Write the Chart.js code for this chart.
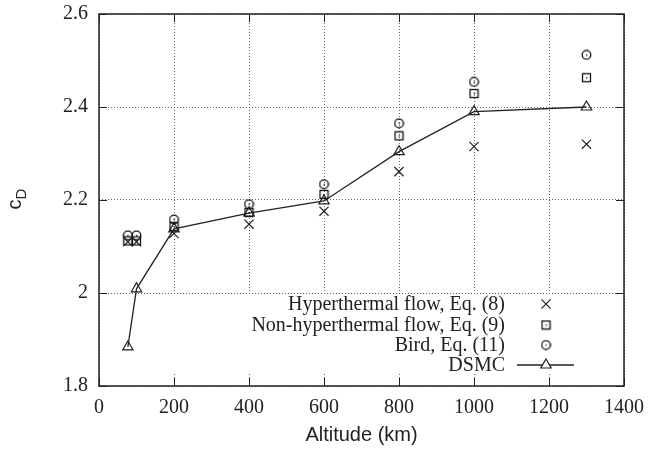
<!DOCTYPE html>
<html>
<head>
<meta charset="utf-8">
<script src="https://cdn.jsdelivr.net/npm/chart.js@4/dist/chart.umd.min.js"></script>
<style>
  html, body { margin: 0; padding: 0; background: #fff; }
  #wrap { width: 648px; height: 452px; }
</style>
</head>
<body>
<div id="wrap"><canvas id="cdChart" width="648" height="452"></canvas></div>
<script>
// data
var altitudes = [77, 100, 200, 400, 600, 800, 1000, 1300];
var hyperthermal = [2.110, 2.110, 2.128, 2.148, 2.176, 2.261, 2.315, 2.320];
var nonHyperthermal = [2.112, 2.112, 2.143, 2.173, 2.212, 2.338, 2.429, 2.463];
var bird = [2.124, 2.124, 2.158, 2.191, 2.234, 2.365, 2.454, 2.512];
var dsmc = [1.884, 2.009, 2.138, 2.172, 2.198, 2.304, 2.390, 2.400];
var seriesLabels = ['Hyperthermal flow, Eq. (8)', 'Non-hyperthermal flow, Eq. (9)', 'Bird, Eq. (11)', 'DSMC'];

function toPoints(ys) {
  return altitudes.map(function(a, i) { return { x: a, y: ys[i] }; });
}

// marker images: square and circle with a dot in the middle
function makeMarker(kind) {
  var c = document.createElement('canvas');
  c.width = 11; c.height = 11;
  var g = c.getContext('2d');
  g.strokeStyle = '#111';
  g.fillStyle = '#111';
  g.lineWidth = 1.3;
  if (kind === 'square') {
    g.strokeRect(1.5, 1.5, 8, 8);
  } else {
    g.beginPath();
    g.arc(5.5, 5.5, 4.3, 0, Math.PI * 2);
    g.stroke();
  }
  g.fillRect(5, 5, 1.3, 1.3);
  return c;
}
var squareDot = makeMarker('square');
var circleDot = makeMarker('circle');

var serif = '"Liberation Serif", "Times New Roman", serif';
var sans = '"Liberation Sans", Arial, sans-serif';

var framePlugin = {
  id: 'frame',
  beforeDatasetsDraw: function(chart) {
    var ctx = chart.ctx;
    var ys = chart.scales.y;
    // legend box hides the grid behind it
    ctx.save();
    ctx.fillStyle = '#fff';
    ctx.fillRect(160, ys.getPixelForValue(2.0) + 2, 450, 79);
    ctx.restore();
  },
  afterDraw: function(chart) {
    var ctx = chart.ctx;
    var a = chart.chartArea;
    var xs = chart.scales.x, ys = chart.scales.y;
    ctx.save();
    ctx.strokeStyle = '#222';
    ctx.lineWidth = 1.5;
    ctx.strokeRect(a.left, a.top, a.right - a.left, a.bottom - a.top);

    // inward tick marks
    ctx.lineWidth = 1;
    xs.ticks.forEach(function(t) {
      var px = Math.round(xs.getPixelForValue(t.value)) + 0.5;
      ctx.beginPath();
      ctx.moveTo(px, a.bottom); ctx.lineTo(px, a.bottom - 8);
      ctx.moveTo(px, a.top); ctx.lineTo(px, a.top + 8);
      ctx.stroke();
    });
    ys.ticks.forEach(function(t) {
      var py = Math.round(ys.getPixelForValue(t.value)) + 0.5;
      ctx.beginPath();
      ctx.moveTo(a.left, py); ctx.lineTo(a.left + 8, py);
      ctx.moveTo(a.right, py); ctx.lineTo(a.right - 8, py);
      ctx.stroke();
    });

    // axis titles
    ctx.fillStyle = '#222';
    ctx.font = '20px ' + sans;
    ctx.textAlign = 'center';
    ctx.textBaseline = 'middle';
    ctx.fillText('Altitude (km)', (a.left + a.right) / 2, 435);

    ctx.translate(17, 199);
    ctx.rotate(-Math.PI / 2);
    ctx.textAlign = 'left';
    ctx.textBaseline = 'alphabetic';
    ctx.font = '20px ' + sans;
    var cw = ctx.measureText('c').width;
    ctx.font = '15px ' + sans;
    var dw = ctx.measureText('D').width;
    var x0 = -(cw + dw) / 2;
    ctx.font = '20px ' + sans;
    ctx.fillText('c', x0, 4);
    ctx.font = '15px ' + sans;
    ctx.fillText('D', x0 + cw, 9);
    ctx.restore();

    // legend, text right aligned with the marker after it
    ctx.save();
    ctx.font = '20px ' + serif;
    ctx.textAlign = 'right';
    ctx.textBaseline = 'middle';
    var rowY = [304, 325, 345, 365];
    chart.data.datasets.forEach(function(ds, i) {
      ctx.fillStyle = '#222';
      ctx.fillText(ds.label, 505, rowY[i] + 1);
      ctx.strokeStyle = '#222';
      if (ds.showLine) {
        ctx.lineWidth = 1.3;
        ctx.beginPath();
        ctx.moveTo(517, rowY[i]); ctx.lineTo(574, rowY[i]);
        ctx.stroke();
      }
      ctx.fillStyle = ds.showLine ? '#fff' : 'rgba(0,0,0,0)';
      ctx.lineWidth = 1.2;
      Chart.helpers.drawPoint(ctx, {
        pointStyle: ds.pointStyle,
        radius: ds.pointRadius,
        rotation: 0,
        borderWidth: 1.2
      }, 546, rowY[i]);
    });
    ctx.restore();
  }
};

new Chart(document.getElementById('cdChart').getContext('2d'), {
  type: 'scatter',
  data: {
    datasets: [{
      label: seriesLabels[0],
      data: toPoints(hyperthermal),
      pointStyle: 'crossRot',
      pointRadius: 6.5,
      pointBorderWidth: 1.2,
      borderColor: '#222',
      backgroundColor: 'transparent',
      showLine: false
    }, {
      label: seriesLabels[1],
      data: toPoints(nonHyperthermal),
      pointStyle: squareDot,
      pointRadius: 5,
      showLine: false
    }, {
      label: seriesLabels[2],
      data: toPoints(bird),
      pointStyle: circleDot,
      pointRadius: 5,
      showLine: false
    }, {
      label: seriesLabels[3],
      data: toPoints(dsmc),
      pointStyle: 'triangle',
      pointRadius: 6,
      pointBorderWidth: 1.2,
      borderColor: '#222',
      borderWidth: 1.3,
      backgroundColor: 'transparent',
      showLine: true,
      tension: 0
    }]
  },
  plugins: [framePlugin],
  options: {
    responsive: false,
    animation: false,
    devicePixelRatio: 1,
    layout: { padding: { top: 14, right: 24, left: 0, bottom: 0 } },
    plugins: {
      legend: { display: false },
      tooltip: { enabled: false }
    },
    scales: {
      x: {
        type: 'linear',
        min: 0,
        max: 1400,
        afterFit: function(scale) {
          scale.height = 66;
          scale.paddingLeft = 0;
          scale.paddingRight = 0;
        },
        ticks: {
          stepSize: 200,
          padding: 10,
          color: '#222',
          font: { family: serif, size: 20 },
          callback: function(v) { return String(v); }
        },
        grid: { color: '#666', lineWidth: 1, drawTicks: false },
        border: { display: false, dash: [1, 2] }
      },
      y: {
        type: 'linear',
        min: 1.8,
        max: 2.6,
        afterFit: function(scale) {
          scale.width = 99;
          scale.paddingTop = 0;
          scale.paddingBottom = 0;
        },
        ticks: {
          stepSize: 0.2,
          padding: 11,
          color: '#222',
          font: { family: serif, size: 20 },
          callback: function(v) { return String(Math.round(v * 10) / 10); }
        },
        grid: { color: '#666', lineWidth: 1, drawTicks: false },
        border: { display: false, dash: [1, 2] }
      }
    }
  }
});
</script>
</body>
</html>
